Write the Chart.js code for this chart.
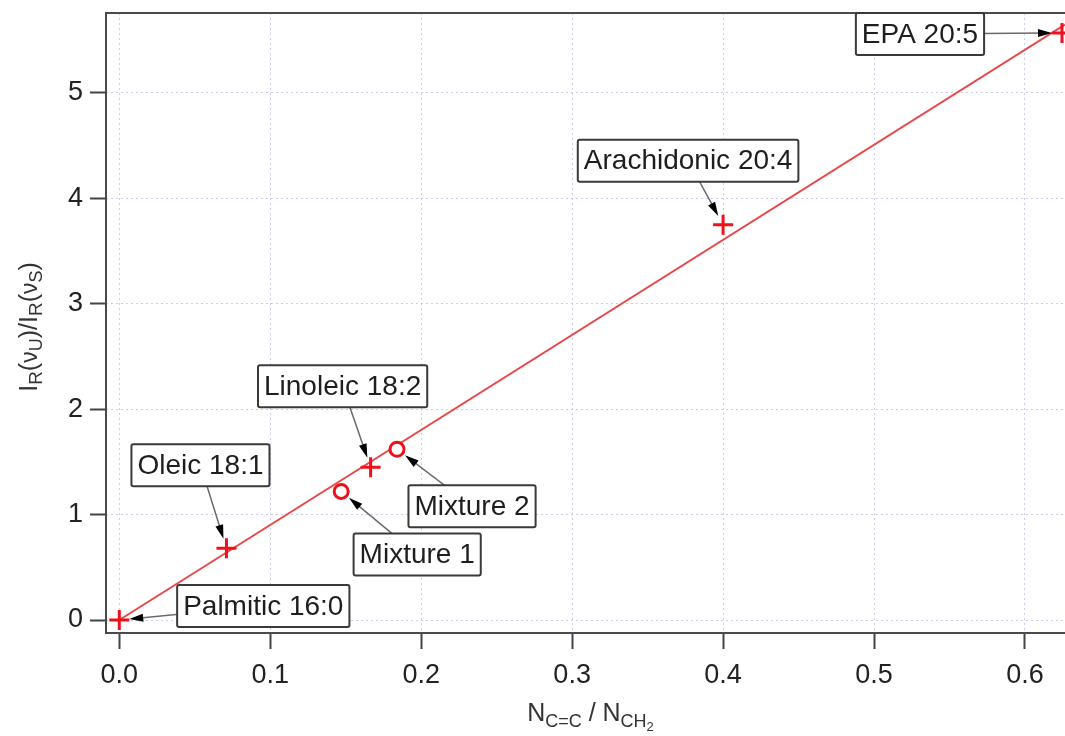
<!DOCTYPE html>
<html>
<head>
<meta charset="utf-8">
<script src="https://cdn.jsdelivr.net/npm/chart.js@4.4.1/dist/chart.umd.min.js"></script>
<style>
    html, body { margin: 0; padding: 0; background: #fff; }
    #wrap { width: 1065px; height: 736px; position: relative; }
</style>
</head>
<body>
<div id="wrap"><canvas id="graphCanvas"></canvas></div>
<script>
// pure fatty acids
var acidNames = ['Palmitic 16:0', 'Oleic 18:1', 'Linoleic 18:2', 'Arachidonic 20:4', 'EPA 20:5'];
var acidX = [0.0, 0.071, 0.1665, 0.400, 0.6245];
var acidY = [0.0, 0.68, 1.45, 3.75, 5.57];

// mixtures
var mixNames = ['Mixture 1', 'Mixture 2'];
var mixX = [0.147, 0.184];
var mixY = [1.22, 1.62];

// linear fit
var fitX = [0.0, 0.6265];
var fitY = [0.0, 5.65];

var xTicks = [0.0, 0.1, 0.2, 0.3, 0.4, 0.5, 0.6];
var yTicks = [0, 1, 2, 3, 4, 5];

// where each label box sits, relative to its marker (px)
var acidLabelOffsets = [[144, -14], [-26, -83], [-28, -81], [-35, -64], [-142, 1]];
var mixLabelOffsets = [[76, 63], [75, 57]];

var FONT = '"Liberation Sans", Arial, sans-serif';
var RED = 'rgb(236, 18, 28)';

function toPoints(xs, ys) {
    var pts = [];
    for (var i = 0; i < xs.length; i++) {
        pts.push({x: xs[i], y: ys[i]});
    }
    return pts;
}

// text with subscripts: parts are [text, size, baseline shift]
function drawRich(ctx, parts, x, y) {
    var total = 0;
    parts.forEach(function (p) {
        ctx.font = p[1] + 'px ' + FONT;
        total += ctx.measureText(p[0]).width;
    });
    var cx = x - total / 2;
    ctx.textAlign = 'left';
    ctx.textBaseline = 'alphabetic';
    parts.forEach(function (p) {
        ctx.font = p[1] + 'px ' + FONT;
        ctx.fillText(p[0], cx, y + p[2]);
        cx += ctx.measureText(p[0]).width;
    });
}

var framePlugin = {
    id: 'frame',
    beforeDatasetsDraw: function (chart) {
        var ctx = chart.ctx, a = chart.chartArea;
        ctx.save();
        ctx.strokeStyle = '#4a4a4a';
        ctx.lineWidth = 2;
        ctx.beginPath();
        ctx.moveTo(a.right + 2, a.top);
        ctx.lineTo(a.left, a.top);
        ctx.lineTo(a.left, a.bottom);
        ctx.lineTo(a.right + 2, a.bottom);
        ctx.stroke();
        ctx.restore();
    }
};

var titlesPlugin = {
    id: 'titles',
    afterDraw: function (chart) {
        var ctx = chart.ctx, a = chart.chartArea;
        ctx.save();
        ctx.fillStyle = '#333';
        drawRich(ctx, [['N', 25, 0], ['C=C', 18, 6], [' / ', 25, 0], ['N', 25, 0], ['CH', 18, 6], ['2', 13, 10]],
            (a.left + a.right) / 2 + 5, 721);
        ctx.translate(37, 327);
        ctx.rotate(-Math.PI / 2);
        drawRich(ctx, [['I', 25, 0], ['R', 19, 5], ['(', 25, 0], ['\u03BD', 23, 0], ['U', 18, 5], [')', 25, 0],
            ['/', 25, 0], ['I', 25, 0], ['R', 19, 5], ['(', 25, 0], ['\u03BD', 23, 0], ['S', 18, 5], [')', 25, 0]], 0, 0);
        ctx.restore();
    }
};

function drawCallout(ctx, text, px, py, off) {
    var cx = px + off[0], cy = py + off[1];
    ctx.font = '28px ' + FONT;
    var w = ctx.measureText(text).width + 12;
    var h = 42;

    // leader line, ending short of the marker
    var dx = px - cx, dy = py - cy;
    var len = Math.sqrt(dx * dx + dy * dy);
    var ux = dx / len, uy = dy / len;
    var tipX = px - ux * 10, tipY = py - uy * 10;
    ctx.strokeStyle = '#6a6a6a';
    ctx.lineWidth = 1.5;
    ctx.beginPath();
    ctx.moveTo(cx, cy);
    ctx.lineTo(tipX - ux * 6, tipY - uy * 6);
    ctx.stroke();

    // arrow head
    ctx.fillStyle = '#000';
    ctx.beginPath();
    ctx.moveTo(tipX, tipY);
    ctx.lineTo(tipX - ux * 14 - uy * 4, tipY - uy * 14 + ux * 4);
    ctx.lineTo(tipX - ux * 14 + uy * 4, tipY - uy * 14 - ux * 4);
    ctx.closePath();
    ctx.fill();

    // box
    ctx.fillStyle = '#fff';
    ctx.strokeStyle = '#3a3a3a';
    ctx.lineWidth = 2;
    ctx.beginPath();
    ctx.roundRect(cx - w / 2, cy - h / 2, w, h, 2);
    ctx.fill();
    ctx.stroke();

    ctx.fillStyle = '#1e1e1e';
    ctx.textAlign = 'center';
    ctx.textBaseline = 'middle';
    ctx.fillText(text, cx, cy + 1);
}

var calloutPlugin = {
    id: 'callouts',
    afterDatasetsDraw: function (chart) {
        var ctx = chart.ctx;
        var xs = chart.scales.x, ys = chart.scales.y;
        ctx.save();
        for (var i = 0; i < acidNames.length; i++) {
            drawCallout(ctx, acidNames[i], xs.getPixelForValue(acidX[i]), ys.getPixelForValue(acidY[i]), acidLabelOffsets[i]);
        }
        for (var j = 0; j < mixNames.length; j++) {
            drawCallout(ctx, mixNames[j], xs.getPixelForValue(mixX[j]), ys.getPixelForValue(mixY[j]), mixLabelOffsets[j]);
        }
        ctx.restore();
    }
};

var gridOpts = {
    color: 'rgba(170, 170, 225, 0.6)',
    lineWidth: 1,
    tickColor: '#444',
    tickWidth: 2,
    tickLength: 16
};

new Chart(document.getElementById('graphCanvas'), {
    type: 'scatter',
    data: {
        datasets: [
            {
                label: 'Fatty acids',
                data: toPoints(acidX, acidY),
                pointStyle: 'cross',
                pointRadius: 10,
                borderWidth: 3,
                borderColor: RED,
                order: 1
            },
            {
                label: 'Mixtures',
                data: toPoints(mixX, mixY),
                pointStyle: 'circle',
                pointRadius: 7,
                borderWidth: 3,
                borderColor: RED,
                backgroundColor: '#fff',
                order: 1
            },
            {
                type: 'line',
                label: 'Fit',
                data: toPoints(fitX, fitY),
                borderColor: 'rgb(232, 72, 72)',
                borderWidth: 2,
                pointRadius: 0,
                order: 3
            }
        ]
    },
    options: {
        responsive: true,
        maintainAspectRatio: false,
        animation: false,
        layout: { autoPadding: false, padding: { top: 13, left: 0, right: 0, bottom: 0 } },
        plugins: { legend: { display: false }, tooltip: { enabled: false } },
        scales: {
            x: {
                type: 'linear',
                min: -0.0088,
                max: 0.6265,
                grid: gridOpts,
                border: { display: false, dash: [2, 3] },
                afterBuildTicks: function (scale) {
                    scale.ticks = xTicks.map(function (v) { return {value: v}; });
                },
                ticks: {
                    padding: 10,
                    color: '#222',
                    font: { family: FONT, size: 27 },
                    maxRotation: 0,
                    callback: function (v) { return v.toFixed(1); }
                },
                afterFit: function (scale) {
                    scale.height = 103;
                    scale.paddingLeft = 0;
                    scale.paddingRight = 0;
                }
            },
            y: {
                type: 'linear',
                min: -0.1233,
                max: 5.759,
                grid: gridOpts,
                border: { display: false, dash: [2, 3] },
                afterBuildTicks: function (scale) {
                    scale.ticks = yTicks.map(function (v) { return {value: v}; });
                },
                ticks: {
                    padding: 7,
                    color: '#222',
                    font: { family: FONT, size: 27 },
                    callback: function (v) { return String(v); }
                },
                afterFit: function (scale) {
                    scale.width = 106;
                    scale.paddingTop = 0;
                    scale.paddingBottom = 0;
                }
            }
        }
    },
    plugins: [framePlugin, calloutPlugin, titlesPlugin]
});
</script>
</body>
</html>
